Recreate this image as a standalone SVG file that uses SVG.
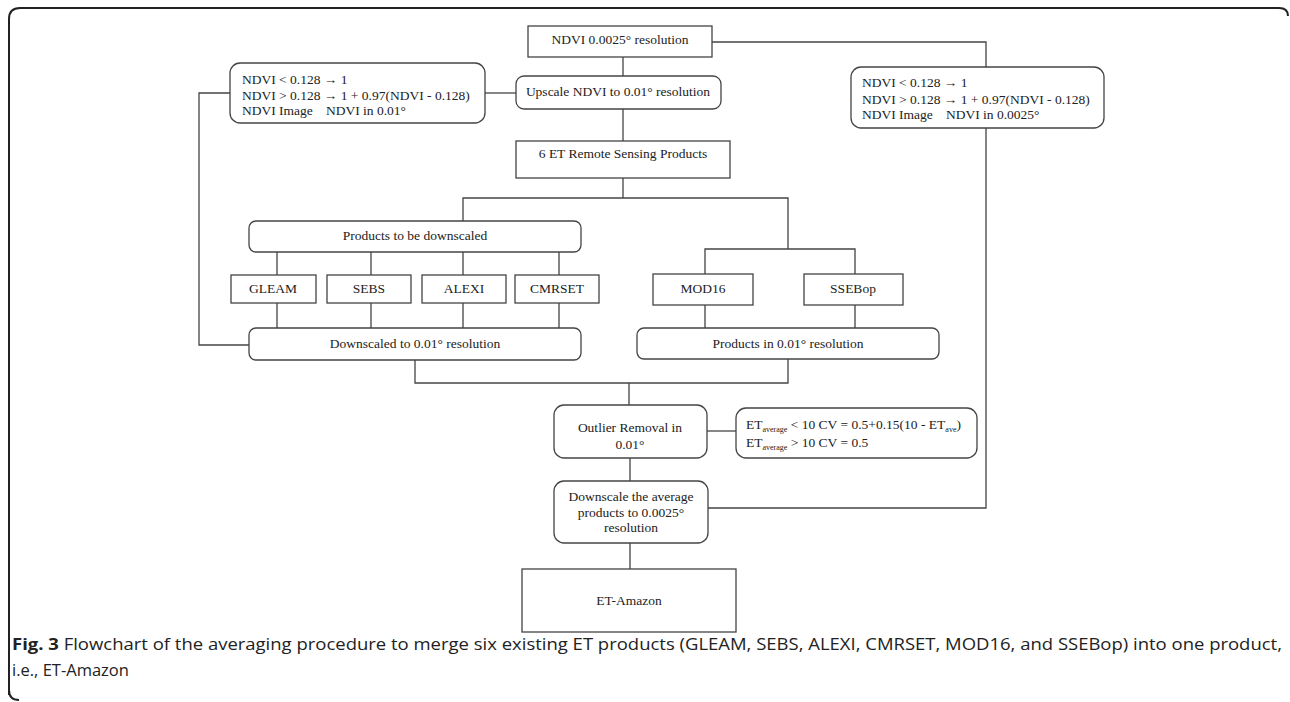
<svg xmlns="http://www.w3.org/2000/svg" width="1290" height="702" viewBox="0 0 1290 702">
<style>
.b{fill:#fff;stroke:#444;stroke-width:1.3}
.c{fill:none;stroke:#444;stroke-width:1.3}
.t{font-family:"Liberation Serif","Times New Roman",serif;font-size:13.5px;fill:#222}
.m{text-anchor:middle}
.s{font-size:8px}
.cap{font-family:"Open Sans","Liberation Sans",sans-serif;font-size:16.5px;fill:#222}
</style>
<rect width="1290" height="702" fill="#fff"/>
<path d="M9,695 L9,19 Q9,8 20,8 L1279,8 Q1288,8 1288,16" fill="none" stroke="#222" stroke-width="2"/>
<path d="M9,690 Q9,700 19,700" fill="none" stroke="#222" stroke-width="2"/>
<g id="connectors" class="c">
<path d="M712,42 H986 V67"/>
<path d="M986,128 V508 H708"/>
<path d="M623,57 V76"/>
<path d="M230,93 H199 V345 H249"/>
<path d="M485,93 H516"/>
<path d="M623,109 V141"/>
<path d="M623,178 V198 M463,221 V198 H788 V249 M705,274 V249 H855 V274"/>
<path d="M277,252 V275 M371,252 V275 M463,252 V275 M559,252 V275"/>
<path d="M277,303 V328 M371,303 V328 M463,303 V328 M559,303 V328"/>
<path d="M705,305 V328 M855,305 V328"/>
<path d="M415,360 V383 H788 V359 M629,383 V405"/>
<path d="M707,431 H736"/>
<path d="M630,458 V481 M630,543 V569"/>
</g>
<g id="ndvi0025"><rect class="b" x="528" y="26" width="184" height="31"/><text class="t m" x="620" y="44">NDVI 0.0025° resolution</text></g>
<g id="ndviLeft"><rect class="b" x="230" y="63" width="255" height="60" rx="10"/>
<text class="t" x="242" y="84">NDVI &lt; 0.128  → 1</text>
<text class="t" x="242" y="100">NDVI &gt; 0.128  → 1 + 0.97(NDVI - 0.128)</text>
<text class="t" x="242" y="115">NDVI Image<tspan x="326">NDVI in 0.01°</tspan></text></g>
<g id="upscale"><rect class="b" x="516" y="76" width="205" height="33" rx="8"/><text class="t m" x="618" y="96">Upscale NDVI to 0.01° resolution</text></g>
<g id="ndviRight"><rect class="b" x="851" y="67" width="253" height="61" rx="10"/>
<text class="t" x="862" y="87">NDVI &lt; 0.128  → 1</text>
<text class="t" x="862" y="104">NDVI &gt; 0.128  → 1 + 0.97(NDVI - 0.128)</text>
<text class="t" x="862" y="119">NDVI Image<tspan x="946">NDVI in 0.0025°</tspan></text></g>
<g id="et6"><rect class="b" x="516" y="141" width="214" height="37"/><text class="t m" x="623" y="158">6 ET Remote Sensing Products</text></g>
<g id="toDownscale"><rect class="b" x="249" y="221" width="332" height="31" rx="7"/><text class="t m" x="415" y="240">Products to be downscaled</text></g>
<g id="gleam"><rect class="b" x="231" y="275" width="85" height="28"/><text class="t m" x="273" y="293">GLEAM</text></g>
<g id="sebs"><rect class="b" x="327" y="275" width="84" height="28"/><text class="t m" x="369" y="293">SEBS</text></g>
<g id="alexi"><rect class="b" x="422" y="275" width="84" height="28"/><text class="t m" x="464" y="293">ALEXI</text></g>
<g id="cmrset"><rect class="b" x="515" y="275" width="84" height="28"/><text class="t m" x="557" y="293">CMRSET</text></g>
<g id="mod16"><rect class="b" x="653" y="274" width="100" height="31"/><text class="t m" x="703" y="293">MOD16</text></g>
<g id="ssebop"><rect class="b" x="804" y="274" width="99" height="31"/><text class="t m" x="853" y="293">SSEBop</text></g>
<g id="downscaled"><rect class="b" x="249" y="328" width="332" height="32" rx="7"/><text class="t m" x="415" y="348">Downscaled to 0.01° resolution</text></g>
<g id="productsIn"><rect class="b" x="637" y="328" width="302" height="31" rx="7"/><text class="t m" x="788" y="348">Products in 0.01° resolution</text></g>
<g id="outlier"><rect class="b" x="554" y="405" width="153" height="53" rx="10"/><text class="t m" x="630" y="432">Outlier Removal in</text><text class="t m" x="630" y="449">0.01°</text></g>
<g id="etRule"><rect class="b" x="736" y="408" width="241" height="50" rx="10"/>
<text class="t" x="746" y="429">ET<tspan class="s" dy="3">average</tspan><tspan dy="-3"> &lt; 10 CV = 0.5+0.15(10  - ET</tspan><tspan class="s" dy="3">ave</tspan><tspan dy="-3">)</tspan></text>
<text class="t" x="746" y="447">ET<tspan class="s" dy="3">average</tspan><tspan dy="-3"> &gt; 10 CV = 0.5</tspan></text></g>
<g id="downscaleAvg"><rect class="b" x="554" y="481" width="154" height="62" rx="10"/>
<text class="t m" x="631" y="501">Downscale the average</text>
<text class="t m" x="631" y="517">products to 0.0025°</text>
<text class="t m" x="631" y="532">resolution</text></g>
<g id="etAmazon"><rect class="b" x="522" y="569" width="214" height="63"/><text class="t m" x="629" y="605">ET-Amazon</text></g>
<g id="caption">
<text class="cap" x="12" y="650" textLength="1270" lengthAdjust="spacingAndGlyphs"><tspan font-weight="bold">Fig. 3</tspan> Flowchart of the averaging procedure to merge six existing ET products (GLEAM, SEBS, ALEXI, CMRSET, MOD16, and SSEBop) into one product,</text>
<text class="cap" x="12" y="676">i.e., ET-Amazon</text>
</g>
</svg>
